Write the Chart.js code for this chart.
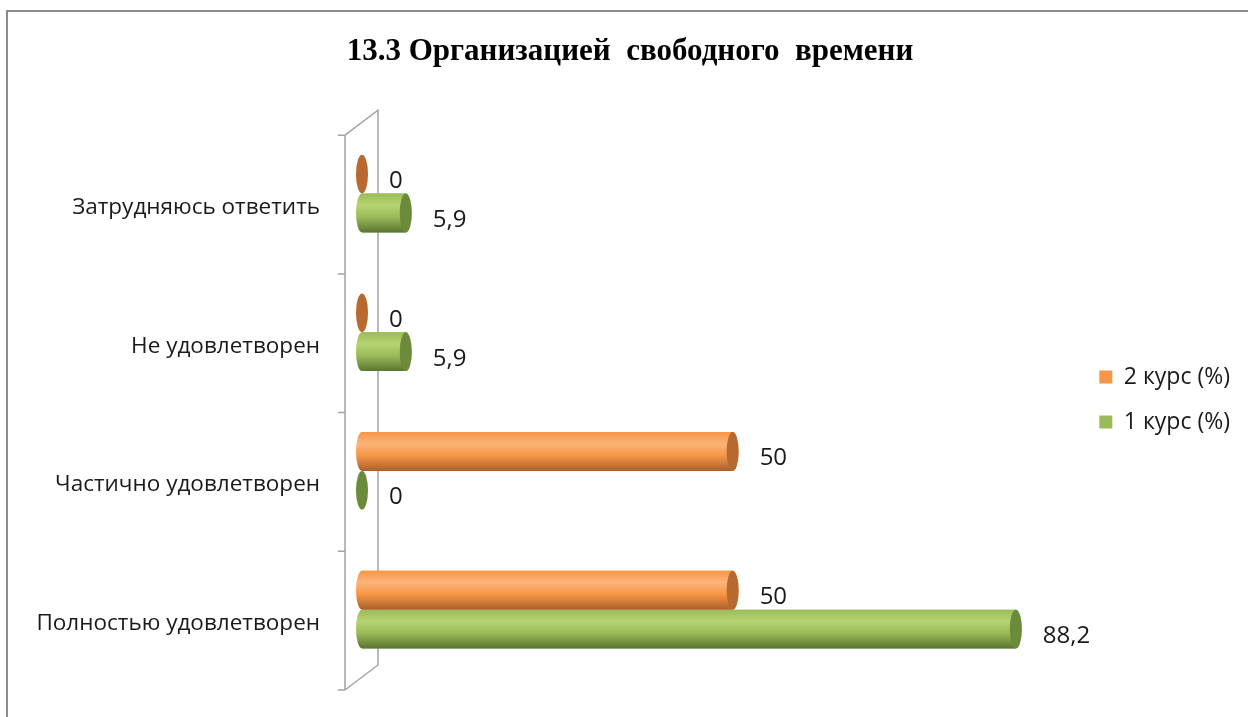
<!DOCTYPE html>
<html>
<head>
<meta charset="utf-8">
<script src="https://cdn.jsdelivr.net/npm/chart.js@4/dist/chart.umd.min.js"></script>
<style>
  html, body { margin: 0; padding: 0; background: #fff; }
  #wrap { position: relative; width: 1248px; height: 717px; overflow: hidden; }
  #frame { position: absolute; left: 6px; top: 10px; right: -10px; bottom: -10px;
           border-left: 2px solid #8c8c8c; border-top: 2px solid #8c8c8c; pointer-events: none; }
  canvas { position: absolute; left: 0; top: 0; }
</style>
</head>
<body>
<div id="wrap">
  <canvas id="myChart" width="1248" height="717"></canvas>
  <div id="frame"></div>
</div>
<script>
// данные диаграммы
const categories = ['Затрудняюсь ответить', 'Не удовлетворен', 'Частично удовлетворен', 'Полностью удовлетворен'];
const seriesNames = ['2 курс (%)', '1 курс (%)'];
const kurs2 = [0, 0, 50, 50];
const kurs1 = [5.9, 5.9, 0, 88.2];

document.addEventListener('DOMContentLoaded', () => {
  const textFont = "'Open Sans', 'Noto Sans', sans-serif";

  // цвета цилиндров: основной, светлый, тёмный, торец
  const palettes = [
    { base: '#F79646', light: '#FBB47A', dark: '#A9602B', cap: '#B8692F' },
    { base: '#9BBB59', light: '#B6D470', dark: '#5A7530', cap: '#6B8A3A' }
  ];

  // "3D" стенка оси категорий
  const wallPlugin = {
    id: 'wall',
    beforeDatasetsDraw(chart) {
      const { ctx, chartArea, scales } = chart;
      const front = chartArea.left - 17, back = chartArea.left + 16;
      const dyF = 11, dyB = -14;
      ctx.save();
      ctx.strokeStyle = '#a3a3a3';
      ctx.lineWidth = 1.5;
      ctx.beginPath();
      ctx.moveTo(front, chartArea.top + dyF);
      ctx.lineTo(front, chartArea.bottom + dyF);
      ctx.moveTo(front, chartArea.top + dyF);
      ctx.lineTo(back, chartArea.top + dyB);
      ctx.lineTo(back, chartArea.bottom + dyB);
      ctx.lineTo(front, chartArea.bottom + dyF);
      for (let i = 0; i <= categories.length; i++) {
        const y = scales.y.getPixelForValue(i - 0.5) + dyF;
        ctx.moveTo(front - 7, y);
        ctx.lineTo(front, y);
      }
      ctx.stroke();
      ctx.restore();
    }
  };

  // цилиндры поверх столбиков + подписи значений
  const cylinderPlugin = {
    id: 'cylinders',
    afterDatasetsDraw(chart) {
      const ctx = chart.ctx;
      chart.data.datasets.forEach((ds, di) => {
        const meta = chart.getDatasetMeta(di);
        const pal = palettes[di];
        meta.data.forEach((bar, i) => {
          const { x, y, base, height } = bar.getProps(['x', 'y', 'base', 'height'], true);
          const ry = height / 2, rx = 6;
          const top = y - ry, bottom = y + ry;
          ctx.save();
          if (x - base > 0.5) {
            const g = ctx.createLinearGradient(0, top, 0, bottom);
            g.addColorStop(0, pal.base);
            g.addColorStop(0.3, pal.light);
            g.addColorStop(0.6, pal.base);
            g.addColorStop(1, pal.dark);
            ctx.beginPath();
            ctx.moveTo(base, top);
            ctx.lineTo(x, top);
            ctx.ellipse(x, y, rx, ry, 0, -Math.PI / 2, Math.PI / 2);
            ctx.lineTo(base, bottom);
            ctx.ellipse(base, y, rx, ry, 0, Math.PI / 2, Math.PI * 1.5);
            ctx.closePath();
            ctx.fillStyle = g;
            ctx.fill();
          }
          ctx.beginPath();
          ctx.ellipse(x, y, rx, ry, 0, 0, Math.PI * 2);
          ctx.fillStyle = pal.cap;
          ctx.fill();

          ctx.fillStyle = '#1a1a1a';
          ctx.font = "24px " + textFont;
          ctx.textAlign = 'left';
          ctx.textBaseline = 'middle';
          ctx.fillText(String(ds.data[i]).replace('.', ','), x + 27, y + 7);
          ctx.restore();
        });
      });
    }
  };

  const ctx = document.getElementById('myChart').getContext('2d');
  new Chart(ctx, {
    type: 'bar',
    data: {
      labels: categories,
      datasets: [
        { label: seriesNames[0], data: kurs2, backgroundColor: palettes[0].base },
        { label: seriesNames[1], data: kurs1, backgroundColor: palettes[1].base }
      ]
    },
    options: {
      indexAxis: 'y',
      responsive: false,
      animation: false,
      categoryPercentage: 0.56,
      barPercentage: 1,
      layout: { padding: { left: 20, right: 8, top: 0, bottom: 38 } },
      scales: {
        x: { display: false, min: 0, max: 96.5 },
        y: {
          grid: { display: false, drawTicks: false },
          border: { display: false },
          ticks: {
            padding: 42,
            labelOffset: 14,
            color: '#1a1a1a',
            font: { family: textFont, size: 22.5 }
          },
          afterFit(scale) {
            scale.width = 342;
            scale.paddingTop = 0;
            scale.paddingBottom = 0;
          }
        }
      },
      plugins: {
        title: {
          display: true,
          text: '13.3 Организацией  свободного  времени',
          color: '#000',
          font: { family: "'Liberation Serif', 'Times New Roman', serif", size: 31, weight: 'bold' },
          padding: { top: 33, bottom: 54 }
        },
        legend: {
          position: 'right',
          title: { display: true, text: '', font: { size: 10 }, padding: { top: 108, bottom: 0 } },
          labels: {
            boxWidth: 13,
            boxHeight: 13,
            padding: 22,
            color: '#1a1a1a',
            font: { family: textFont, size: 23 }
          }
        },
        tooltip: { enabled: false }
      }
    },
    plugins: [wallPlugin, cylinderPlugin]
  });
});
</script>
</body>
</html>
